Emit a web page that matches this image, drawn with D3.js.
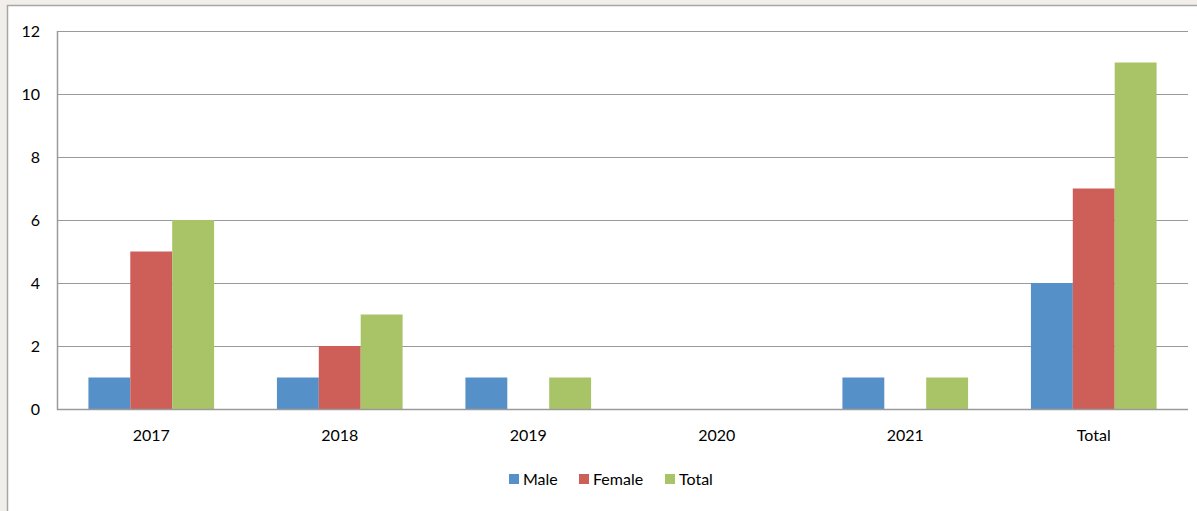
<!DOCTYPE html>
<html lang="en">
<head>
<meta charset="UTF-8">
<title>Bar Chart</title>
<style>
    body{ margin: 0; background: #f2efeb; }
    svg{ display: block; }
    text{ font-family: Lato, "Open Sans", sans-serif; fill: #000; }
</style>
<script src="https://cdn.jsdelivr.net/npm/d3@7"></script>
</head>
<body>
<script>
    const categories = ["2017", "2018", "2019", "2020", "2021", "Total"]
    const seriesNames = ["Male", "Female", "Total"]
    const male = [1, 1, 1, 0, 1, 4]
    const female = [5, 2, 0, 0, 0, 7]
    const total = [6, 3, 1, 0, 1, 11]
    const yTicks = [0, 2, 4, 6, 8, 10, 12]
    const colors = ["#5690c8", "#cd5e58", "#a9c467"]

    const W = 1197, H = 511
    const plotLeft = 57, plotRight = 1188, plotTop = 31, plotBottom = 409

    let svg = d3.select("body").append("svg")
        .attr("width", W).attr("height", H)

    // white chart area with grey frame
    svg.append("rect")
        .attr("x", 7.5).attr("y", 5.5)
        .attr("width", W + 10).attr("height", H + 10)
        .attr("fill", "#fff")
        .attr("stroke", "#a6a6a6")
        .attr("stroke-width", 1.5)

    let x = d3.scaleBand().domain(categories).range([plotLeft, plotRight]).paddingInner(0).paddingOuter(0)
    let y = d3.scaleLinear().domain([0, 12]).range([plotBottom, plotTop])

    let series = [male, female, total]
    let barW = x.bandwidth() / 4.5

    // gridlines
    svg.append("g").selectAll("line")
        .data(yTicks)
        .enter().append("line")
        .attr("x1", plotLeft).attr("x2", plotRight)
        .attr("y1", d => Math.round(y(d)) + 0.5)
        .attr("y2", d => Math.round(y(d)) + 0.5)
        .attr("stroke", "#9a9a9a")
        .attr("stroke-width", 1.2)

    // bars
    let gBars = svg.append("g")
    series.forEach((vals, s) => {
        gBars.selectAll(".s" + s)
            .data(vals)
            .enter().append("rect")
            .attr("class", "s" + s)
            .attr("x", (d, i) => x(categories[i]) + x.bandwidth() / 2 - 1.5 * barW + s * barW)
            .attr("y", d => y(d))
            .attr("width", barW)
            .attr("height", d => y(0) - y(d))
            .attr("fill", colors[s])
    })

    // axis lines
    svg.append("line")
        .attr("x1", plotLeft + 0.5).attr("x2", plotLeft + 0.5)
        .attr("y1", plotTop).attr("y2", plotBottom + 1)
        .attr("stroke", "#9a9a9a").attr("stroke-width", 1.5)
    svg.append("line")
        .attr("x1", plotLeft).attr("x2", plotRight)
        .attr("y1", plotBottom + 0.5).attr("y2", plotBottom + 0.5)
        .attr("stroke", "#9a9a9a").attr("stroke-width", 1.5)

    // y tick labels
    svg.append("g").selectAll("text")
        .data(yTicks)
        .enter().append("text")
        .attr("x", 40)
        .attr("y", d => y(d) + 6)
        .attr("text-anchor", "end")
        .attr("font-size", 16)
        .text(d => d)

    // x labels
    svg.append("g").selectAll("text")
        .data(categories)
        .enter().append("text")
        .attr("x", d => x(d) + x.bandwidth() / 2)
        .attr("y", 441)
        .attr("text-anchor", "middle")
        .attr("font-size", 16)
        .text(d => d)

    // legend
    let legendX = [509, 579, 665]
    let gLeg = svg.append("g")
    seriesNames.forEach((n, i) => {
        gLeg.append("rect")
            .attr("x", legendX[i]).attr("y", 474)
            .attr("width", 10).attr("height", 10)
            .attr("fill", colors[i])
        gLeg.append("text")
            .attr("x", legendX[i] + 14).attr("y", 485)
            .attr("font-size", 16)
            .text(n)
    })
</script>
</body>
</html>
